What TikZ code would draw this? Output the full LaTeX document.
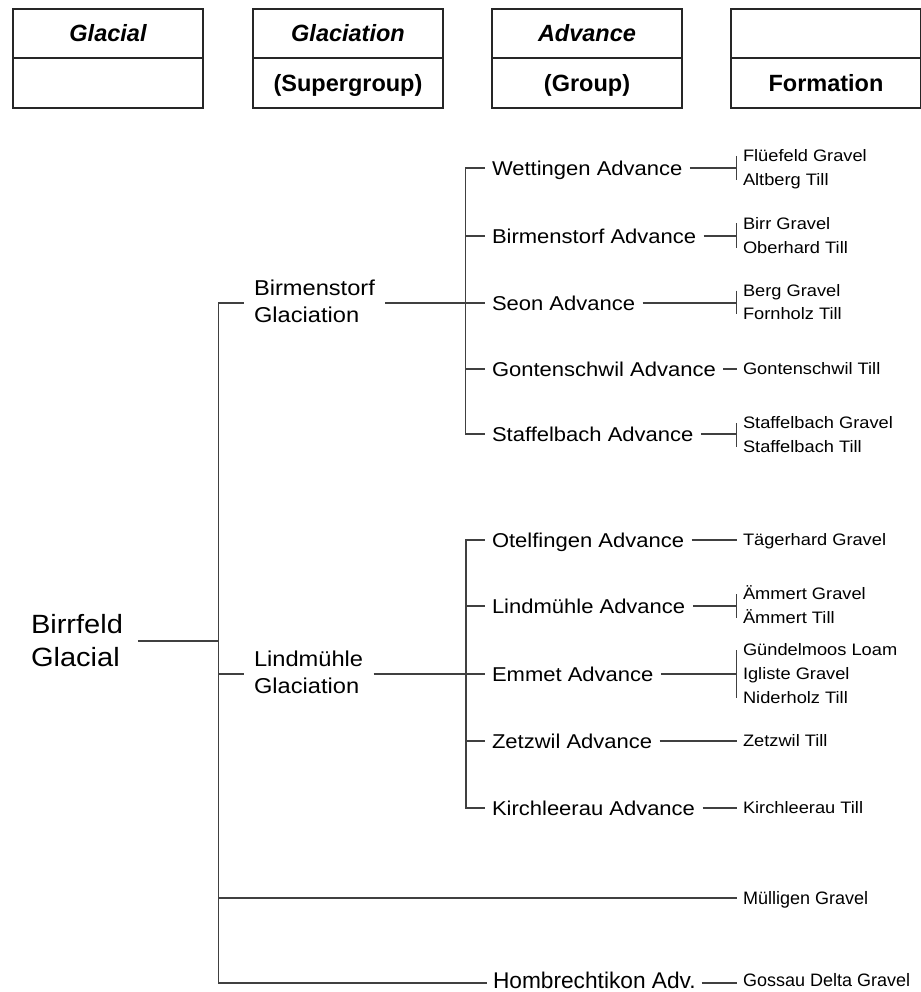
\documentclass[tikz,border=0pt]{standalone}
\usepackage{fontspec}
\setmainfont{Liberation Sans}
\newfontfamily\wfont[FakeStretch=1.1]{Liberation Sans}
\begin{document}
\begin{tikzpicture}[x=1pt,y=-1pt]
\tikzset{
 ln/.style={draw=black!75, line width=1.3pt},
 hcell/.style={draw=black!85, line width=1.3pt, minimum width=190pt, inner sep=0pt,
   text height=16.8pt, text depth=0pt, font=\fontsize{23.5}{28}\selectfont\bfseries},
 adv/.style={font=\wfont\fontsize{20}{24}\selectfont, inner sep=0pt, outer xsep=7.5pt, outer ysep=0pt, text height=14.3pt, text depth=0pt, anchor=west},
 frm/.style={font=\wfont\fontsize{16.6}{20}\selectfont, inner sep=0pt, outer xsep=6.5pt, outer ysep=0pt, text height=11.9pt, text depth=0pt, anchor=west},
 gla/.style={font=\wfont\fontsize{21.5}{27}\selectfont, align=left, inner sep=0pt, outer xsep=10.5pt, outer ysep=0pt, anchor=west},
 gl/.style={font=\wfont\fontsize{26.4}{33}\selectfont, align=left, inner sep=0pt, outer xsep=15pt, outer ysep=0pt, anchor=west},
 bfrm/.style={font=\fontsize{18}{22}\selectfont, inner sep=0pt, outer xsep=6.5pt, outer ysep=0pt, text height=12.9pt, text depth=0pt, anchor=west},
 badv/.style={font=\fontsize{22.7}{27}\selectfont, inner sep=0pt, outer xsep=6pt, outer ysep=0pt, text height=16.3pt, text depth=0pt, anchor=west},
}
\useasboundingbox (0,0) rectangle (920,992);

% header
\node[hcell, minimum height=49pt] (h1a) at (108,33.5) {\itshape Glacial};
\node[hcell, minimum height=50pt] (h1b) at (108,83) {};
\node[hcell, minimum height=49pt] (h2a) at (348,33.5) {\itshape Glaciation};
\node[hcell, minimum height=50pt] (h2b) at (348,83) {(Supergroup)};
\node[hcell, minimum height=49pt] (h3a) at (587,33.5) {\itshape Advance};
\node[hcell, minimum height=50pt] (h3b) at (587,83) {(Group)};
\node[hcell, minimum height=49pt] (h4a) at (826,33.5) {};
\node[hcell, minimum height=50pt] (h4b) at (826,83) {Formation};

% guide coordinates
\coordinate (trunk) at (218.5,0);
\coordinate (uvx) at (465.5,0);
\coordinate (lvx) at (466,0);
\coordinate (hj) at (487,983);

% glacial and glaciations
\node[gl] (birr) at (16,641) {Birrfeld\\Glacial};
\node[gla] (bg) at (243.5,301) {Birmenstorf\\Glaciation};
\node[gla] (lg) at (243.5,672.5) {Lindmühle\\Glaciation};

% upper advances
\node[adv] (wett) at (484.5,168) {Wettingen Advance};
\node[adv] (birm) at (484.5,236) {Birmenstorf Advance};
\node[adv] (seon) at (484.5,303) {Seon Advance};
\node[adv] (gont) at (484.5,369) {Gontenschwil Advance};
\node[adv] (staf) at (484.5,434) {Staffelbach Advance};

% lower advances
\node[adv] (otel) at (484.5,540) {Otelfingen Advance};
\node[adv] (lind) at (484.5,606) {Lindmühle Advance};
\node[adv] (emme) at (484.5,674) {Emmet Advance};
\node[adv] (zetz) at (484.5,741) {Zetzwil Advance};
\node[adv] (kirc) at (484.5,808) {Kirchleerau Advance};

% formations
\node[frm] (flue) at (736.5,156) {Flüefeld Gravel};
\node[frm] (altb) at (736.5,180) {Altberg Till};
\node[frm] (birg) at (736.5,223.5) {Birr Gravel};
\node[frm] (ober) at (736.5,247.5) {Oberhard Till};
\node[frm] (berg) at (736.5,290.5) {Berg Gravel};
\node[frm] (forn) at (736.5,314) {Fornholz Till};
\node[frm] (gtil) at (736.5,369) {Gontenschwil Till};
\node[frm] (sgra) at (736.5,423) {Staffelbach Gravel};
\node[frm] (stil) at (736.5,447) {Staffelbach Till};
\node[frm] (taeg) at (736.5,540) {Tägerhard Gravel};
\node[frm] (aegr) at (736.5,594) {Ämmert Gravel};
\node[frm] (aeti) at (736.5,617.5) {Ämmert Till};
\node[frm] (guen) at (736.5,650) {Gündelmoos Loam};
\node[frm] (igli) at (736.5,674) {Igliste Gravel};
\node[frm] (nide) at (736.5,697.5) {Niderholz Till};
\node[frm] (ztil) at (736.5,741) {Zetzwil Till};
\node[frm] (ktil) at (736.5,808) {Kirchleerau Till};

% bottom
\node[bfrm] (mull) at (736.5,898) {Mülligen Gravel};
\node[badv] (hom) at (487,980.5) {Hombrechtikon Adv.};
\node[bfrm] (goss) at (736.5,980.5) {Gossau Delta Gravel};

% trunk
\draw[ln] (bg.west |- seon.west) -- (seon.west -| trunk) -- (hj -| trunk) -- (hj);
\draw[ln] (birr.east) -- (birr.east -| trunk);
\draw[ln] (emme.west -| trunk) -- (lg.west |- emme.west);
\draw[ln] (mull.west -| trunk) -- (mull.west);
\draw[ln] (hom.east |- hj) -- (goss.west |- hj);

% glaciation to advances
\draw[ln] (bg.east |- seon.west) -- (seon.west -| uvx);
\draw[ln] (wett.west) -- (wett.west -| uvx) -- (staf.west -| uvx) -- (staf.west);
\foreach \a in {birm,seon,gont} \draw[ln] (\a.west -| uvx) -- (\a.west);
\draw[ln] (lg.east |- emme.west) -- (emme.west -| lvx);
\draw[ln] (otel.west) -- (otel.west -| lvx) -- (kirc.west -| lvx) -- (kirc.west);
\foreach \a in {lind,emme,zetz} \draw[ln] (\a.west -| lvx) -- (\a.west);

% advances to formations
\draw[ln] (wett.east) -- (wett.east -| flue.west);
\draw[ln] (flue.west) -- (altb.west);
\draw[ln] (birm.east) -- (birm.east -| birg.west);
\draw[ln] (birg.west) -- (ober.west);
\draw[ln] (seon.east) -- (seon.east -| berg.west);
\draw[ln] (berg.west) -- (forn.west);
\draw[ln] (gont.east) -- (gtil.west);
\draw[ln] (staf.east) -- (staf.east -| sgra.west);
\draw[ln] (sgra.west) -- (stil.west);
\draw[ln] (otel.east) -- (taeg.west);
\draw[ln] (lind.east) -- (lind.east -| aegr.west);
\draw[ln] (aegr.west) -- (aeti.west);
\draw[ln] (emme.east) -- (igli.west);
\draw[ln] (guen.west) -- (nide.west);
\draw[ln] (zetz.east) -- (ztil.west);
\draw[ln] (kirc.east) -- (ktil.west);
\end{tikzpicture}
\end{document}
